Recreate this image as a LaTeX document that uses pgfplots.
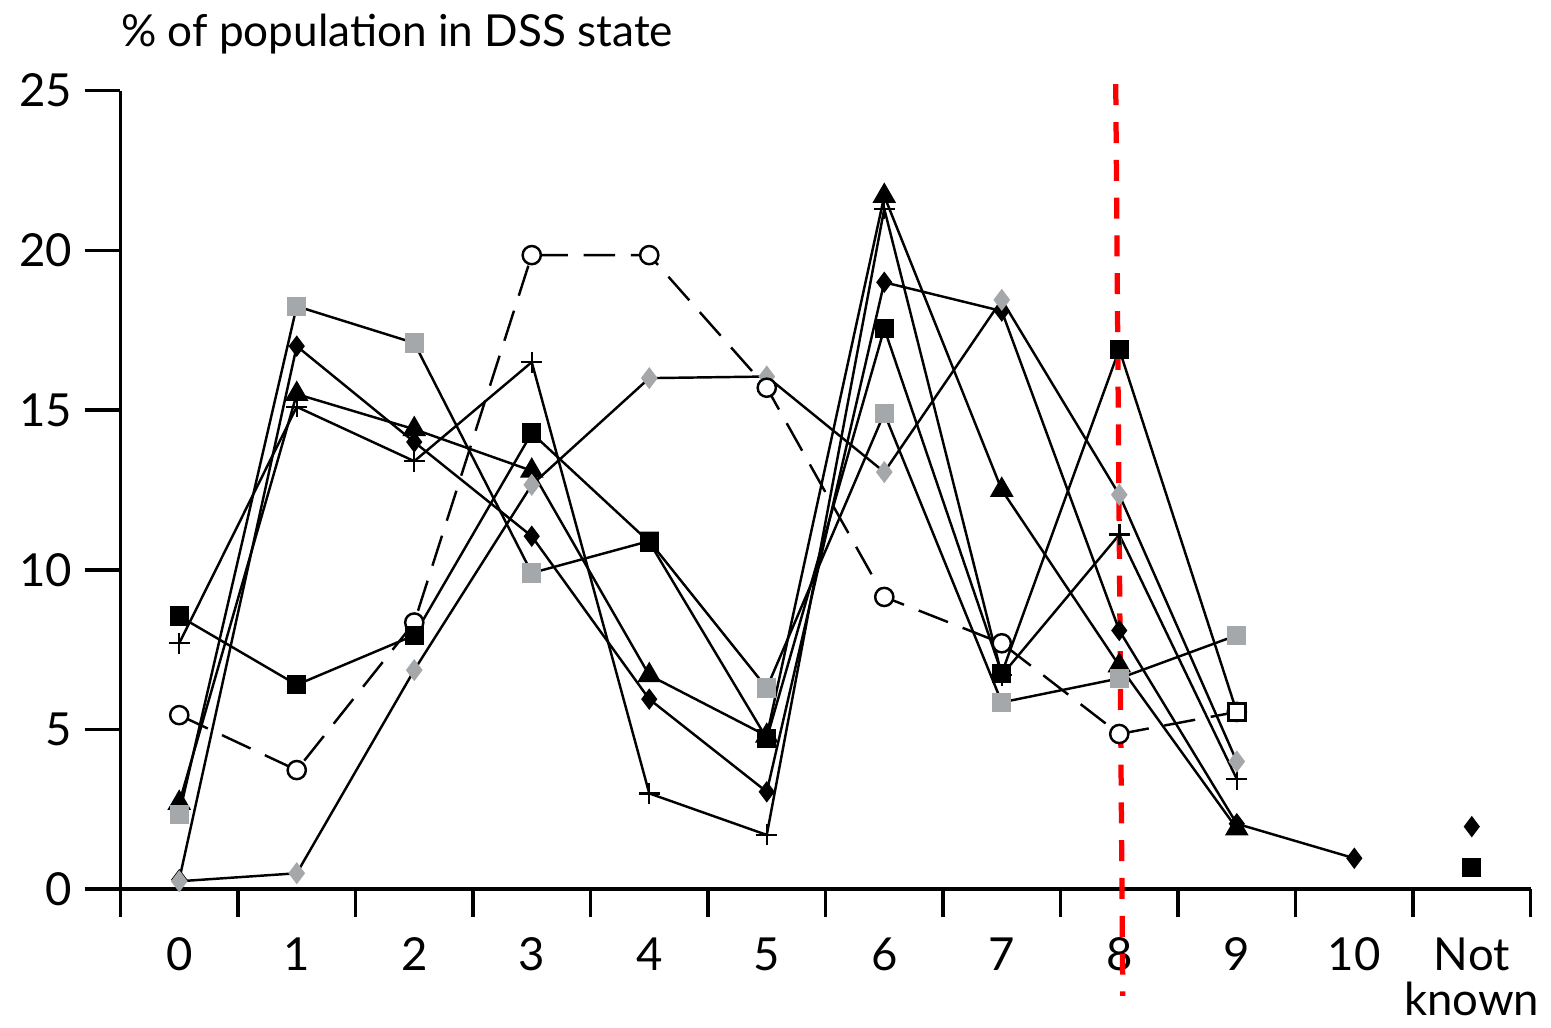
\documentclass[border=0pt]{standalone}
\usepackage{pgfplots}
\pgfplotsset{compat=1.18}
\usepackage{fontspec}
\setmainfont{Lato}
\definecolor{ptgray}{RGB}{165,168,170}

\begin{document}
\begin{tikzpicture}
\begin{axis}[
    scale only axis,
    width=14.16cm, height=8.02cm,
    xmin=-0.5, xmax=11.5, ymin=0, ymax=25,
    axis lines*=left,
    axis line style={line width=1.1pt},
    tick align=outside,
    tick style={line width=1pt, black},
    major tick length=0.36cm,
    ytick={0,5,...,25},
    xtick={-0.5,0.5,...,11.5},
    xticklabels={0,1,2,3,4,5,6,7,8,9,10,{Not\\known}},
    x tick label as interval,
    xtick style={/pgfplots/major tick length=0.28cm},
    xticklabel style={align=center, anchor=north, font=\fontsize{13}{13}\selectfont},
    yticklabel style={font=\fontsize{13}{13}\selectfont},
    /pgf/number format/assume math mode=true,
    clip=false,
    every axis plot/.append style={line width=0.7pt},
]
% black triangles
\addplot[black, mark=triangle*, mark size=3.2pt] coordinates {
    (0,2.7) (1,15.5) (2,14.4) (3,13.1) (4,6.7) (5,4.8) (6,21.7) (7,12.5) (8,7.0) (9,1.9)};
% plus
\addplot[black, mark=+, mark size=3pt] coordinates {
    (0,7.7) (1,15.1) (2,13.4) (3,16.5) (4,3.0) (5,1.7) (6,21.3) (7,6.7) (8,11.1) (9,3.45)};
% grey squares
\addplot[black, mark=square*, mark size=2.4pt, mark options={draw=ptgray, fill=ptgray}] coordinates {
    (0,2.35) (1,18.25) (2,17.1) (3,9.9) (4,10.9) (5,6.3) (6,14.9) (7,5.85) (8,6.6) (9,7.95)};
% black diamonds
\addplot[black, mark=diamond*, mark size=2.5pt] coordinates {
    (0,0.3) (1,17.0) (2,14.0) (3,11.05) (4,5.95) (5,3.05) (6,19.0) (7,18.1) (8,8.1) (9,2.05) (10,0.97)};
% grey diamonds
\addplot[black, mark=diamond*, mark size=2.6pt, mark options={draw=ptgray, fill=ptgray}] coordinates {
    (0,0.25) (1,0.5) (2,6.86) (3,12.66) (4,16.0) (5,16.05) (6,13.06) (7,18.45) (8,12.35) (9,4.0)};
% open circles, dashed
\addplot[black, dash pattern=on 9pt off 4.5pt, mark=*, mark size=2.6pt, mark options={solid, fill=white}] coordinates {
    (0,5.45) (1,3.73) (2,8.35) (3,19.85) (4,19.85) (5,15.7) (6,9.15) (7,7.7) (8,4.86) (9,5.55)};
% black squares
\addplot[black, mark=square*, mark size=2.4pt] coordinates {
    (0,8.55) (1,6.4) (2,7.95) (3,14.28) (4,10.87) (5,4.72) (6,17.55) (7,6.76) (8,16.9) (9,5.55)};
\addplot[only marks, mark=square*, mark size=2.4pt, mark options={draw=black, fill=white, line width=0.9pt}] coordinates {(9,5.55)};
% not known
\addplot[only marks, mark=diamond*, mark size=2.5pt] coordinates {(11,1.96)};
\addplot[only marks, mark=square*, mark size=2.4pt] coordinates {(11,0.69)};
% red marker line
\addplot[red, line width=1.5pt, dash pattern=on 6pt off 4.8pt] coordinates {(7.97,25.2) (8.03,-3.34)};
\node[anchor=base west, inner sep=0pt, font=\fontsize{12.6}{13}\selectfont] at ([yshift=0.44cm]rel axis cs:0,1) {\% of population in DSS state};
\path ([xshift=-1.21cm,yshift=-1.31cm]rel axis cs:0,0) -- ([xshift=0.14cm,yshift=0.91cm]rel axis cs:1,1);
\end{axis}
\end{tikzpicture}
\end{document}
